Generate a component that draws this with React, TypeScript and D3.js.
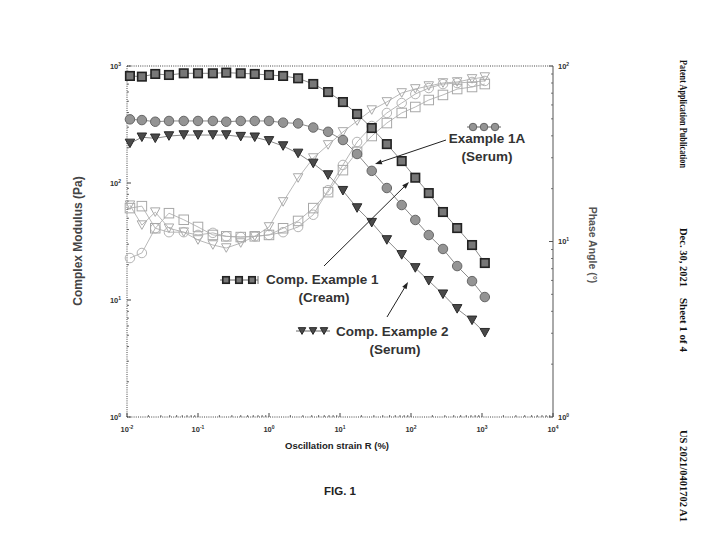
import React from "react";
import * as d3 from "d3";

const strain = [0.011, 0.0162, 0.025, 0.039, 0.063, 0.1, 0.162, 0.25, 0.4, 0.63, 1, 1.58, 2.57, 4.2, 6.8, 11, 17.4, 28, 45.7, 74, 115, 178, 282, 447, 724, 1096];

// complex modulus (Pa), left axis
const modCream = [822, 811, 855, 838, 866, 866, 866, 877, 866, 855, 838, 822, 785, 702, 599, 492, 389, 295, 215, 154, 111, 82, 56.5, 41.2, 29.5, 20.7];
const modEx1A = [350, 345, 334, 339, 339, 339, 339, 334, 339, 339, 339, 328, 323, 298, 274, 233, 177, 127, 90.6, 64.8, 48.3, 35.9, 27.3, 19.5, 14.5, 10.6];
const modComp2 = [218, 246, 241, 252, 257, 257, 257, 257, 249, 246, 229, 207, 179, 147, 117, 85.9, 61.1, 45.8, 32.6, 24.3, 18.8, 14.6, 11.2, 8.4, 6.7, 5.25];

// phase angle (deg), right axis
const phaseCream = [15.5, 15.9, 11.9, 14.5, 13.3, 12.1, 10.9, 10.7, 10.6, 10.7, 10.9, 11.9, 13.1, 15.5, 19.1, 25.5, 32.4, 39.9, 47.3, 54.0, 58.4, 64.0, 68.4, 73.9, 75.9, 78.9];
const phaseEx1A = [8.05, 8.6, 11.9, 11.3, 11.3, 10.9, 11.2, 10.7, 10.6, 10.7, 10.9, 11.3, 12.1, 14.2, 19.6, 27.3, 36.9, 45.5, 54.0, 61.5, 69.2, 74.9, 78.9, 80.0, 81.1, 82.2];
const phaseComp2 = [16.1, 12.4, 14.7, 11.9, 11.3, 10.2, 9.55, 9.18, 9.8, 10.7, 12.1, 16.8, 23.0, 29.9, 35.5, 42.1, 48.6, 56.1, 62.4, 70.2, 74.0, 76.9, 80.0, 81.1, 84.4, 86.5];

const xExps = [-2, -1, 0, 1, 2, 3, 4];
const yLeftExps = [0, 1, 2, 3];
const yRightExps = [0, 1, 2];

const W = 710, H = 546;
const L = 127, R = 553, T = 66, B = 417;

const x = d3.scaleLog().domain([0.01, 10000]).range([L, R]);
const yL = d3.scaleLog().domain([1, 1000]).range([B, T]);
const yR = d3.scaleLog().domain([1, 100]).range([B, T]);

type Shape = "square" | "circle" | "tri";

const Marker = ({ shape, cx, cy, s, fill, stroke, sw }: any) => {
  if (shape === "square")
    return <rect x={cx - s / 2} y={cy - s / 2} width={s} height={s} fill={fill} stroke={stroke} strokeWidth={sw} />;
  if (shape === "circle")
    return <circle cx={cx} cy={cy} r={s / 2} fill={fill} stroke={stroke} strokeWidth={sw} />;
  const h = s * 0.9;
  return <path d={`M${cx - s / 2},${cy - h / 2}L${cx + s / 2},${cy - h / 2}L${cx},${cy + h / 2}Z`} fill={fill} stroke={stroke} strokeWidth={sw} />;
};

const filledStyle: Record<Shape, any> = {
  square: { fill: "#777", stroke: "#222", sw: 1.6, s: 8.5 },
  circle: { fill: "#949494", stroke: "#666", sw: 1, s: 9.5 },
  tri: { fill: "#4a4a4a", stroke: "#2a2a2a", sw: 1, s: 9.5 },
};
const openStyle: Record<Shape, any> = {
  square: { fill: "none", stroke: "#a8a8a8", sw: 1, s: 9.5 },
  circle: { fill: "none", stroke: "#b4b4b4", sw: 1, s: 9.5 },
  tri: { fill: "none", stroke: "#aaaaaa", sw: 1, s: 9.5 },
};

const Pow = ({ e }: { e: number }) => (
  <>
    10<tspan dy={-3} fontSize={5}>{e}</tspan>
  </>
);

const Series = ({ vals, y, shape, open }: any) => {
  const line = d3.line<number>().x((_, i) => x(strain[i])).y((d) => y(d));
  const st = open ? openStyle[shape as Shape] : filledStyle[shape as Shape];
  return (
    <g>
      <path d={line(vals)!} fill="none" stroke={open ? "#b0b0b0" : "#8a8a8a"} strokeWidth={open ? 0.9 : 1} />
      {vals.map((v: number, i: number) => (
        <Marker key={i} shape={shape} cx={x(strain[i])} cy={y(v)} {...st} />
      ))}
    </g>
  );
};

const LegendGlyph = ({ shape, x0, y0, n, gap, bar }: any) => {
  const st = filledStyle[shape as Shape];
  const pts = d3.range(n).map((i) => x0 + 6 + i * gap);
  const x1 = x0 + 12 + (n - 1) * gap;
  return (
    <g>
      <line x1={x0} x2={x1} y1={y0} y2={y0} stroke="#666" strokeWidth={1} />
      {bar && <line x1={x1} x2={x1} y1={y0 - 4} y2={y0 + 4} stroke="#666" />}
      {pts.map((px, i) => (
        <Marker key={i} shape={shape} cx={px} cy={y0} {...st} s={st.s - 2} />
      ))}
    </g>
  );
};

const Arrow = ({ x1, y1, x2, y2 }: any) => {
  const a = Math.atan2(y2 - y1, x2 - x1);
  const len = 7, wd = 2.5;
  const bx = x2 - len * Math.cos(a), by = y2 - len * Math.sin(a);
  const p1 = [bx + wd * Math.sin(a), by - wd * Math.cos(a)];
  const p2 = [bx - wd * Math.sin(a), by + wd * Math.cos(a)];
  return (
    <g>
      <line x1={x1} y1={y1} x2={bx} y2={by} stroke="#222" strokeWidth={1} />
      <path d={`M${x2},${y2}L${p1[0]},${p1[1]}L${p2[0]},${p2[1]}Z`} fill="#222" />
    </g>
  );
};

export default function App() {
  const minorX = xExps.slice(0, -1).flatMap((e) => d3.range(2, 10).map((m) => m * Math.pow(10, e)));
  const minorYL = yLeftExps.slice(0, -1).flatMap((e) => d3.range(2, 10).map((m) => m * Math.pow(10, e)));
  const minorYR = yRightExps.slice(0, -1).flatMap((e) => d3.range(2, 10).map((m) => m * Math.pow(10, e)));
  const axisCol = "#444";
  const sans = "'Liberation Sans', Arial, sans-serif";
  const serif = "'Liberation Serif', 'Times New Roman', serif";

  return (
    <svg width={W} height={H} style={{ position: "absolute", left: 0, top: 0, background: "#fff" }} fontFamily={sans}>
      <rect width={W} height={H} fill="#fff" />

      {/* frame */}
      <line x1={L} x2={R} y1={T} y2={T} stroke={axisCol} strokeDasharray="1 1.2" />
      <line x1={L} x2={R} y1={B} y2={B} stroke={axisCol} strokeDasharray="1 1.2" />
      <line x1={L} x2={L} y1={T} y2={B} stroke={axisCol} strokeDasharray="1 1.2" />
      <line x1={R} x2={R} y1={T} y2={B} stroke="#555" strokeWidth={1} />

      {/* x ticks */}
      {xExps.map((e) => (
        <g key={e}>
          <line x1={x(Math.pow(10, e))} x2={x(Math.pow(10, e))} y1={B} y2={B - 4} stroke={axisCol} />
          <text x={x(Math.pow(10, e))} y={432} textAnchor="middle" fontSize={7.5} fontWeight="bold" fill="#333">
            <Pow e={e} />
          </text>
        </g>
      ))}
      {minorX.map((v, i) => (
        <line key={i} x1={x(v)} x2={x(v)} y1={B} y2={B - 2} stroke={axisCol} strokeWidth={0.8} />
      ))}

      {/* left y ticks */}
      {yLeftExps.map((e) => (
        <g key={e}>
          <line x1={L} x2={L + 4} y1={yL(Math.pow(10, e))} y2={yL(Math.pow(10, e))} stroke={axisCol} />
          <text x={121} y={yL(Math.pow(10, e)) + 2.5} textAnchor="end" fontSize={7.5} fontWeight="bold" fill="#333">
            <Pow e={e} />
          </text>
        </g>
      ))}
      {minorYL.map((v, i) => (
        <line key={i} x1={L} x2={L + 2} y1={yL(v)} y2={yL(v)} stroke={axisCol} strokeWidth={0.8} />
      ))}

      {/* right y ticks */}
      {yRightExps.map((e) => (
        <g key={e}>
          <line x1={R} x2={R - 4} y1={yR(Math.pow(10, e))} y2={yR(Math.pow(10, e))} stroke="#555" />
          <text x={558} y={yR(Math.pow(10, e)) + 2.5} textAnchor="start" fontSize={7.5} fontWeight="bold" fill="#333">
            <Pow e={e} />
          </text>
        </g>
      ))}
      {minorYR.map((v, i) => (
        <line key={i} x1={R} x2={R - 2} y1={yR(v)} y2={yR(v)} stroke="#555" strokeWidth={0.8} />
      ))}

      {/* axis titles */}
      <text transform="translate(82,241) rotate(-90)" textAnchor="middle" fontSize={12} fontWeight="bold" fill="#444">
        Complex Modulus (Pa)
      </text>
      <text x={337} y={449} textAnchor="middle" fontSize={9.5} fontWeight="bold" fill="#222">
        Oscillation strain  R (%)
      </text>
      <text transform="translate(589,245) rotate(90)" textAnchor="middle" fontSize={10.5} fontWeight="bold" fill="#555">
        Phase Angle (°)
      </text>

      {/* open series: phase angle */}
      <Series vals={phaseComp2} y={yR} shape="tri" open />
      <Series vals={phaseEx1A} y={yR} shape="circle" open />
      <Series vals={phaseCream} y={yR} shape="square" open />

      {/* filled series: complex modulus */}
      <Series vals={modComp2} y={yL} shape="tri" />
      <Series vals={modEx1A} y={yL} shape="circle" />
      <Series vals={modCream} y={yL} shape="square" />

      {/* annotations */}
      <LegendGlyph shape="circle" x0={467} y0={127} n={3} gap={11} />
      <text x={487} y={143} textAnchor="middle" fontSize={13.5} fontWeight="bold" fill="#333">Example 1A</text>
      <text x={487} y={161} textAnchor="middle" fontSize={13.5} fontWeight="bold" fill="#333">(Serum)</text>
      <Arrow x1={446} y1={140} x2={375} y2={164} />

      <LegendGlyph shape="square" x0={220} y0={280} n={3} gap={13} bar />
      <text x={266} y={284} fontSize={13.5} fontWeight="bold" fill="#333">Comp. Example 1</text>
      <text x={324} y={302} textAnchor="middle" fontSize={13.5} fontWeight="bold" fill="#333">(Cream)</text>
      <Arrow x1={324} y1={266} x2={409} y2={182} />

      <LegendGlyph shape="tri" x0={296} y0={331} n={3} gap={11} />
      <text x={336} y={336} fontSize={13.5} fontWeight="bold" fill="#333">Comp. Example 2</text>
      <text x={395} y={354} textAnchor="middle" fontSize={13.5} fontWeight="bold" fill="#333">(Serum)</text>
      <Arrow x1={387} y1={317} x2={408} y2={282} />

      <text x={340} y={495} textAnchor="middle" fontSize={11.5} fontWeight="bold" fill="#222">FIG. 1</text>

      {/* page header */}
      <g fontFamily={serif} fontWeight="bold" fontSize={10.5} fill="#111">
        <text transform="translate(680,60) rotate(90)" textLength={108} lengthAdjust="spacingAndGlyphs">Patent Application Publication</text>
        <text transform="translate(680,228) rotate(90)" textLength={59} lengthAdjust="spacingAndGlyphs">Dec. 30, 2021</text>
        <text transform="translate(680,298) rotate(90)" textLength={54} lengthAdjust="spacingAndGlyphs">Sheet 1 of 4</text>
        <text transform="translate(680,430) rotate(90)" textLength={92} lengthAdjust="spacingAndGlyphs">US 2021/0401702 A1</text>
      </g>
    </svg>
  );
}
